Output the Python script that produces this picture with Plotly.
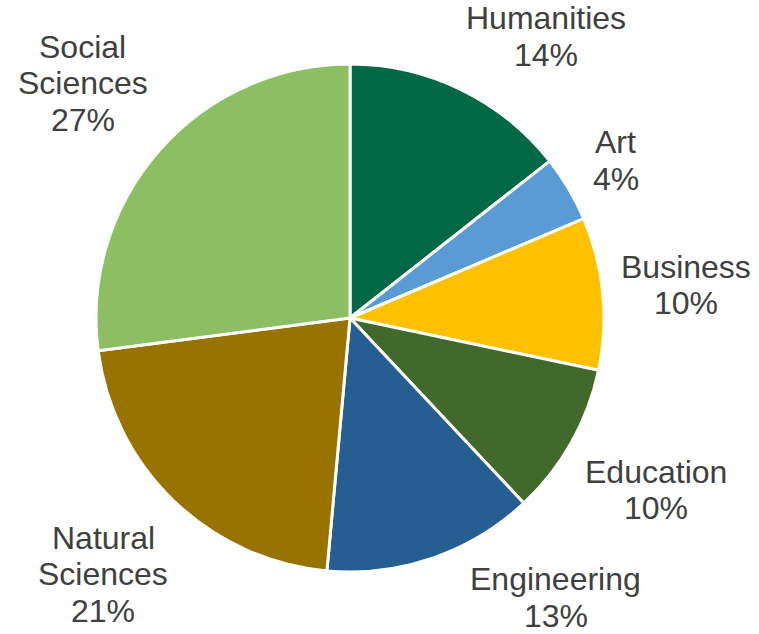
import math
import plotly.graph_objects as go

labels = ["Humanities", "Art", "Business", "Education", "Engineering", "Natural Sciences", "Social Sciences"]
label_lines = [["Humanities"], ["Art"], ["Business"], ["Education"], ["Engineering"],
               ["Natural", "Sciences"], ["Social", "Sciences"]]
values = [14.4, 4.2, 9.7, 9.7, 13.45, 21.49, 27.06]
colors = ["#006845", "#5B9BD5", "#FFC000", "#43682B", "#255E91", "#997300", "#8CBF64"]

W, H = 759, 634
cx, cy, R = 350, 318, 254
FONT = 32
LINE_H = 36.5
GAP = 17.0
TEXT_COLOR = "#404040"

# Approximate Arial advance widths (per 1000 em) to size label boxes
AW = {"H": 722, "u": 556, "m": 833, "a": 556, "n": 556, "i": 222, "t": 278, "e": 556,
      "s": 500, "A": 667, "r": 333, "B": 667, "E": 667, "d": 556, "c": 500, "o": 556,
      "g": 556, "N": 722, "l": 222, "S": 667, "%": 889, " ": 278}


def text_w(s):
    return sum(AW.get(ch, 556) for ch in s) * FONT / 1000.0


def near_dist(bx, by, w, h):
    nx = min(max(cx, bx - w / 2), bx + w / 2)
    ny = min(max(cy, by - h / 2), by + h / 2)
    return math.hypot(nx - cx, ny - cy)


fig = go.Figure(go.Pie(
    labels=labels,
    values=values,
    textinfo="none",
    hoverinfo="label+percent",
    marker=dict(colors=colors, line=dict(color="white", width=3)),
    sort=False,
    direction="clockwise",
    rotation=0,
    showlegend=False,
    domain=dict(x=[(cx - R) / W, (cx + R) / W], y=[(H - cy - R) / H, (H - cy + R) / H]),
))

total = sum(values)
cum = 0.0
annotations = []
for lines, v in zip(label_lines, values):
    pct = "{}%".format(int(round(v / total * 100)))
    mid = (cum + v / 2) / total * 2 * math.pi
    cum += v
    ux, uy = math.sin(mid), -math.cos(mid)
    all_lines = lines + [pct]
    w = max(text_w(s) for s in all_lines)
    h = LINE_H * len(all_lines)
    # place along the mid-angle just outside the pie
    r = R
    while near_dist(cx + r * ux, cy + r * uy, w, h) < R + GAP:
        r += 0.25
    bx, by = cx + r * ux, cy + r * uy
    # keep the label inside the canvas, sliding it around the pie if needed
    if by - h / 2 < 0 or by + h / 2 > H:
        by = min(max(by, h / 2), H - h / 2)
        sx = 1 if ux >= 0 else -1
        bx = cx
        while near_dist(bx, by, w, h) < R + GAP:
            bx += 0.25 * sx
    if bx - w / 2 < 0 or bx + w / 2 > W:
        bx = min(max(bx, w / 2), W - w / 2)
        sy = 1 if uy >= 0 else -1
        by = cy
        while near_dist(bx, by, w, h) < R + GAP:
            by += 0.25 * sy
    n = len(all_lines)
    for i, s in enumerate(all_lines):
        ly = by + (i - (n - 1) / 2) * LINE_H
        annotations.append(dict(
            x=bx / W, y=1 - ly / H, xref="paper", yref="paper",
            text=s, showarrow=False, xanchor="center", yanchor="middle",
            font=dict(family="Liberation Sans, Arial", size=FONT, color=TEXT_COLOR),
        ))

fig.update_layout(
    width=W, height=H,
    margin=dict(l=0, r=0, t=0, b=0),
    paper_bgcolor="white",
    plot_bgcolor="white",
    annotations=annotations,
)
fig.write_html("out.html")
